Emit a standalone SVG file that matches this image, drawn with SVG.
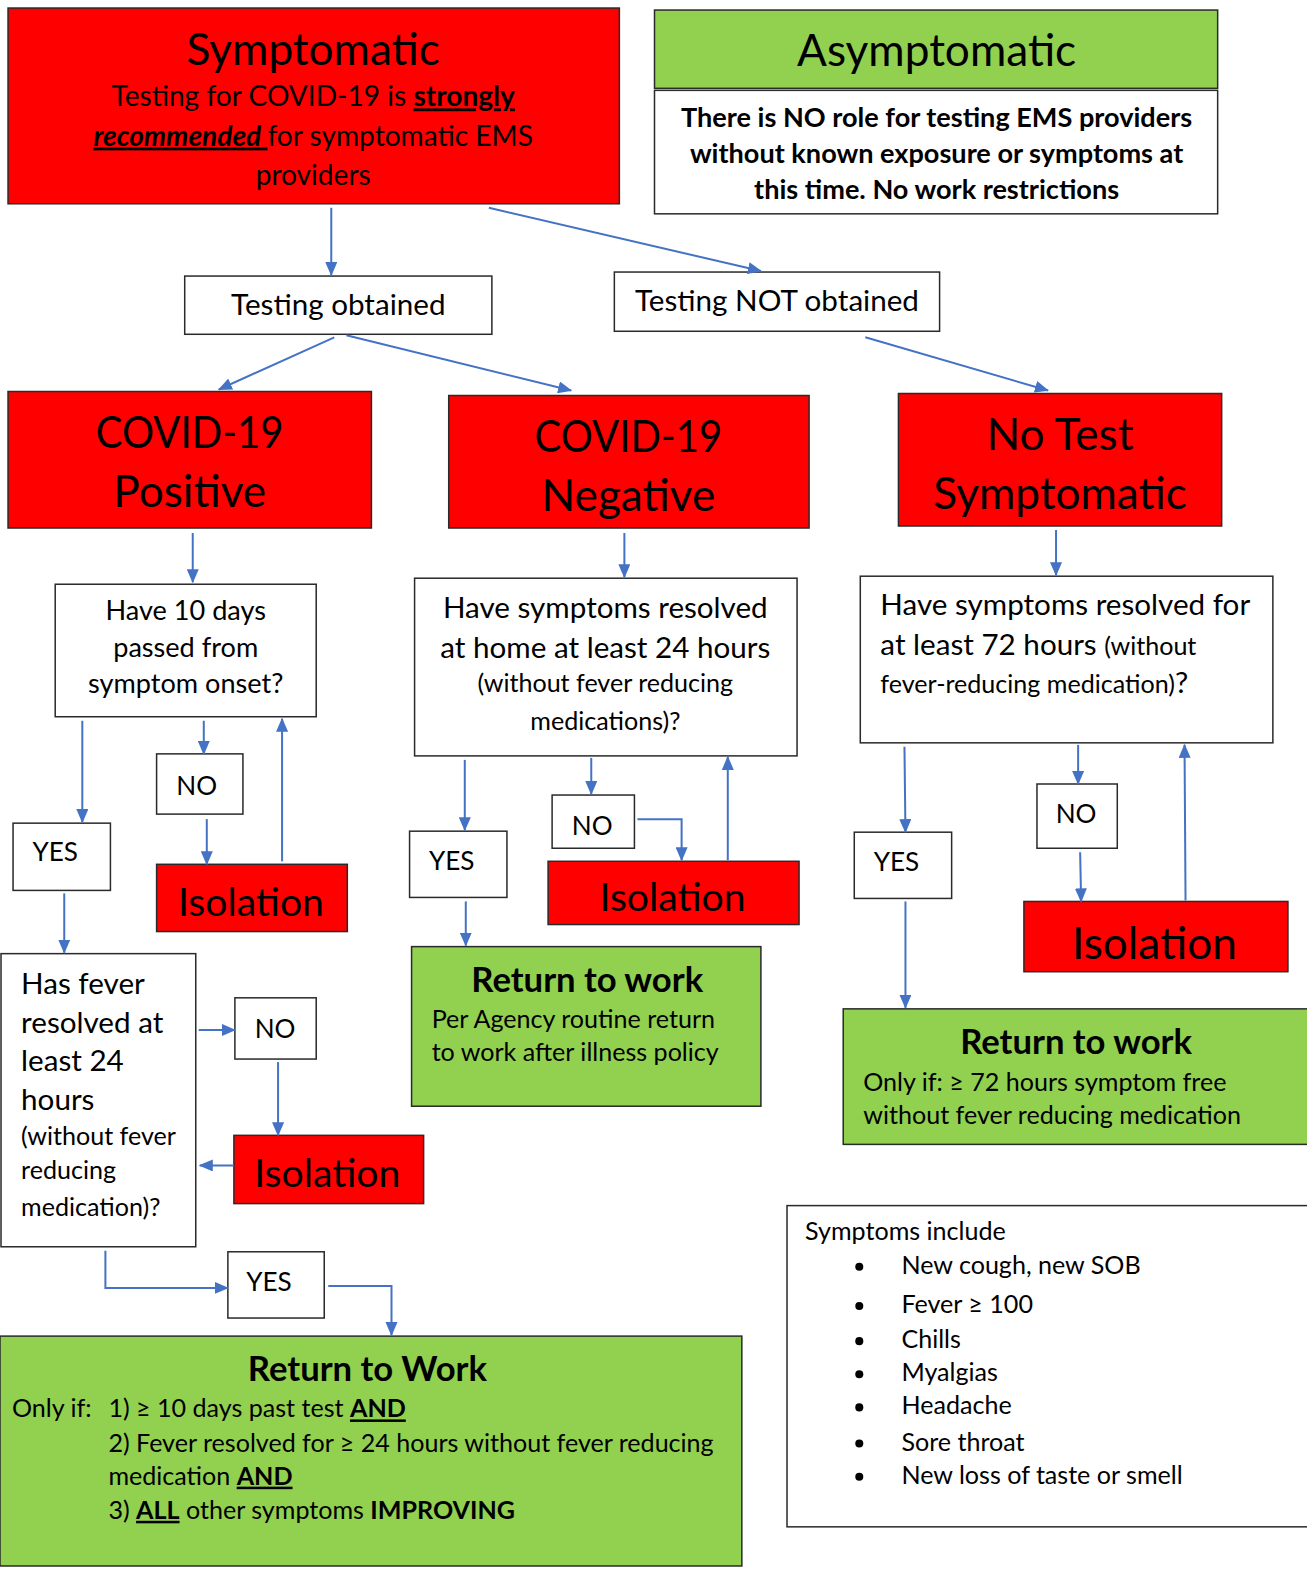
<svg xmlns="http://www.w3.org/2000/svg" width="1307" height="1574" viewBox="0 0 1307 1574">
<defs>
<marker id="ah" markerUnits="userSpaceOnUse" markerWidth="14" markerHeight="12" refX="13" refY="6" orient="auto">
<path d="M0,0 L14,6 L0,12 Z" fill="#4472C4"/>
</marker>
</defs>
<style>
text{font-family:Lato,"Open Sans","Liberation Sans",sans-serif;fill:#000}
.red{fill:#FF0000;stroke:#2a2a2a;stroke-width:1.5}
.grn{fill:#92D050;stroke:#2a2a2a;stroke-width:1.5}
.wht{fill:#FFFFFF;stroke:#2a2a2a;stroke-width:1.5}
.c{text-anchor:middle}
.big{font-size:44px}
.iso{font-size:39px}
.t29{font-size:29.5px}
.t28{font-size:28px}
.t27{font-size:27px}
.t26{font-size:26px}
.t25{font-size:25px}
.b{font-weight:bold}
.ttl{font-size:34.5px;font-weight:bold}
.con{fill:none;stroke:#4472C4;stroke-width:2;marker-end:url(#ah)}
</style>
<rect width="1307" height="1574" fill="#FFFFFF"/>
<g transform="scale(1.00384)">
<g id="symptomatic">
<rect class="red" x="8" y="8" width="609" height="195"/>
<text class="c big" x="312" y="65">Symptomatic</text>
<text class="c t28" x="312" y="106">Testing for COVID-19 is <tspan class="b" text-decoration="underline">strongly</tspan></text>
<text class="c t28" x="312" y="145"><tspan class="b" font-style="italic" text-decoration="underline">recommended </tspan>for symptomatic EMS</text>
<text class="c t28" x="312" y="184">providers</text>
</g>
<g id="asymptomatic">
<rect class="grn" x="652" y="10" width="561" height="78"/>
<text class="c big" x="933" y="66">Asymptomatic</text>
</g>
<g id="asym-note">
<rect class="wht" x="652" y="90" width="561" height="123"/>
<text class="c t27 b" x="933" y="127">There is NO role for testing EMS providers</text>
<text class="c t27 b" x="933" y="162">without known exposure or symptoms at</text>
<text class="c t27 b" x="933" y="198">this time. No work restrictions</text>
</g>
<g id="testing-obtained">
<rect class="wht" x="184" y="275" width="306" height="58"/>
<text class="c t29" x="337" y="314">Testing obtained</text>
</g>
<g id="testing-not-obtained">
<rect class="wht" x="612" y="271" width="324" height="59"/>
<text class="c t29" x="774" y="310">Testing NOT obtained</text>
</g>
<g id="covid-positive">
<rect class="red" x="8" y="390" width="362" height="136"/>
<text class="c big" x="189" y="446" textLength="187" lengthAdjust="spacingAndGlyphs">COVID-19</text>
<text class="c big" x="189" y="505">Positive</text>
</g>
<g id="covid-negative">
<rect class="red" x="447" y="394" width="359" height="132"/>
<text class="c big" x="626" y="450" textLength="187" lengthAdjust="spacingAndGlyphs">COVID-19</text>
<text class="c big" x="626" y="509">Negative</text>
</g>
<g id="no-test">
<rect class="red" x="895" y="392" width="322" height="132"/>
<text class="c big" x="1056" y="448">No Test</text>
<text class="c big" x="1056" y="507">Symptomatic</text>
</g>
<g id="q-10days">
<rect class="wht" x="55" y="582" width="260" height="132"/>
<text class="c t27" x="185" y="618">Have 10 days</text>
<text class="c t27" x="185" y="654">passed from</text>
<text class="c t27" x="185" y="690">symptom onset?</text>
</g>
<g id="pos-no">
<rect class="wht" x="156" y="751" width="86" height="60"/>
<text class="c t26" x="196" y="792">NO</text>
</g>
<g id="pos-isolation">
<rect class="red" x="156" y="861" width="190" height="67"/>
<text class="c iso" x="250" y="912">Isolation</text>
</g>
<g id="pos-yes">
<rect class="wht" x="13" y="820" width="97" height="67"/>
<text class="c t26" x="55" y="858">YES</text>
</g>
<g id="q-fever">
<rect class="wht" x="1" y="950" width="194" height="292"/>
<text class="t29" x="21" y="990">Has fever</text>
<text class="t29" x="21" y="1029">resolved at</text>
<text class="t29" x="21" y="1067">least 24</text>
<text class="t29" x="21" y="1106">hours</text>
<text class="t25" x="21" y="1141">(without fever</text>
<text class="t25" x="21" y="1174">reducing</text>
<text class="t25" x="21" y="1211">medication)?</text>
</g>
<g id="fever-no">
<rect class="wht" x="234" y="994" width="81" height="61"/>
<text class="c t26" x="274" y="1034">NO</text>
</g>
<g id="fever-isolation">
<rect class="red" x="233" y="1131" width="189" height="68"/>
<text class="c iso" x="326" y="1182">Isolation</text>
</g>
<g id="fever-yes">
<rect class="wht" x="227" y="1247" width="96" height="66"/>
<text class="c t26" x="268" y="1286">YES</text>
</g>
<g id="rtw-positive">
<rect class="grn" x="0" y="1331" width="739" height="229"/>
<text class="c ttl" x="366" y="1376">Return to Work</text>
<text class="t25" x="12" y="1412">Only if:</text>
<text class="t25" x="108" y="1412">1) ≥ 10 days past test <tspan class="b" text-decoration="underline">AND</tspan></text>
<text class="t25" x="108" y="1446">2) Fever resolved for ≥ 24 hours without fever reducing</text>
<text class="t25" x="108" y="1479">medication <tspan class="b" text-decoration="underline">AND</tspan></text>
<text class="t25" x="108" y="1513">3) <tspan class="b" text-decoration="underline">ALL</tspan> other symptoms <tspan class="b">IMPROVING</tspan></text>
</g>
<g id="q-24hours">
<rect class="wht" x="413" y="576" width="381" height="177"/>
<text class="c t29" x="603" y="616">Have symptoms resolved</text>
<text class="c t29" x="603" y="655">at home at least 24 hours</text>
<text class="c t25" x="603" y="689">(without fever reducing</text>
<text class="c t25" x="603" y="727">medications)?</text>
</g>
<g id="neg-yes">
<rect class="wht" x="408" y="828" width="97" height="66"/>
<text class="c t26" x="450" y="867">YES</text>
</g>
<g id="neg-no">
<rect class="wht" x="550" y="792" width="82" height="53"/>
<text class="c t26" x="590" y="832">NO</text>
</g>
<g id="neg-isolation">
<rect class="red" x="546" y="858" width="250" height="63"/>
<text class="c iso" x="670" y="908">Isolation</text>
</g>
<g id="rtw-negative">
<rect class="grn" x="410" y="943" width="348" height="159"/>
<text class="c ttl" x="585" y="988">Return to work</text>
<text class="t25" x="430" y="1024">Per Agency routine return</text>
<text class="t25" x="430" y="1057">to work after illness policy</text>
</g>
<g id="q-72hours">
<rect class="wht" x="857" y="574" width="411" height="166"/>
<text class="t29" x="877" y="613">Have symptoms resolved for</text>
<text class="t29" x="877" y="652">at least 72 hours <tspan class="t25">(without</tspan></text>
<text class="t25" x="877" y="690">fever-reducing medication)<tspan class="t29">?</tspan></text>
</g>
<g id="nt-yes">
<rect class="wht" x="851" y="829" width="97" height="66"/>
<text class="c t26" x="893" y="868">YES</text>
</g>
<g id="nt-no">
<rect class="wht" x="1033" y="781" width="80" height="64"/>
<text class="c t26" x="1072" y="820">NO</text>
</g>
<g id="nt-isolation">
<rect class="red" x="1020" y="898" width="263" height="70"/>
<text class="c" font-size="44" x="1150" y="955">Isolation</text>
</g>
<g id="rtw-notest">
<rect class="grn" x="840" y="1005" width="470" height="135"/>
<text class="c ttl" x="1072" y="1050">Return to work</text>
<text class="t25" x="860" y="1087">Only if: ≥ 72 hours symptom free</text>
<text class="t25" x="860" y="1120">without fever reducing medication</text>
</g>
<g id="symptoms-list">
<rect class="wht" x="784" y="1201" width="526" height="320"/>
<text class="t25" x="802" y="1235">Symptoms include</text>
<g fill="#000">
<circle cx="856" cy="1262" r="4"/>
<circle cx="856" cy="1301" r="4"/>
<circle cx="856" cy="1336" r="4"/>
<circle cx="856" cy="1369" r="4"/>
<circle cx="856" cy="1402" r="4"/>
<circle cx="856" cy="1438" r="4"/>
<circle cx="856" cy="1471" r="4"/>
</g>
<text class="t25" x="898" y="1269">New cough, new SOB</text>
<text class="t25" x="898" y="1308">Fever ≥ 100</text>
<text class="t25" x="898" y="1343">Chills</text>
<text class="t25" x="898" y="1376">Myalgias</text>
<text class="t25" x="898" y="1409">Headache</text>
<text class="t25" x="898" y="1445">Sore throat</text>
<text class="t25" x="898" y="1478">New loss of taste or smell</text>
</g>
<g id="connectors">
<path class="con" d="M330,207 L330,274"/>
<path class="con" d="M487,207 L758,270"/>
<path class="con" d="M333,336 L218,388"/>
<path class="con" d="M345,334 L569,389"/>
<path class="con" d="M862,336 L1044,389"/>
<path class="con" d="M192,531 L192,580"/>
<path class="con" d="M622,531 L622,575"/>
<path class="con" d="M1052,528 L1052,573"/>
<path class="con" d="M82,718 L82,819"/>
<path class="con" d="M203,718 L203,751"/>
<path class="con" d="M206,816 L206,861"/>
<path class="con" d="M281,858 L281,716"/>
<path class="con" d="M64,890 L64,949"/>
<path class="con" d="M198,1026 L234,1026"/>
<path class="con" d="M277,1058 L277,1131"/>
<path class="con" d="M233,1161 L199,1161"/>
<path class="con" d="M105,1246 L105,1283 L227,1283"/>
<path class="con" d="M327,1281 L390,1281 L390,1330"/>
<path class="con" d="M463,757 L463,827"/>
<path class="con" d="M464,898 L464,942"/>
<path class="con" d="M589,755 L589,791"/>
<path class="con" d="M635,816 L679,816 L679,857"/>
<path class="con" d="M725,857 L725,754"/>
<path class="con" d="M901,744 L902,829"/>
<path class="con" d="M902,898 L902,1004"/>
<path class="con" d="M1074,742 L1074,781"/>
<path class="con" d="M1076,849 L1077,898"/>
<path class="con" d="M1181,897 L1180,742"/>
</g>
</g>
</svg>
